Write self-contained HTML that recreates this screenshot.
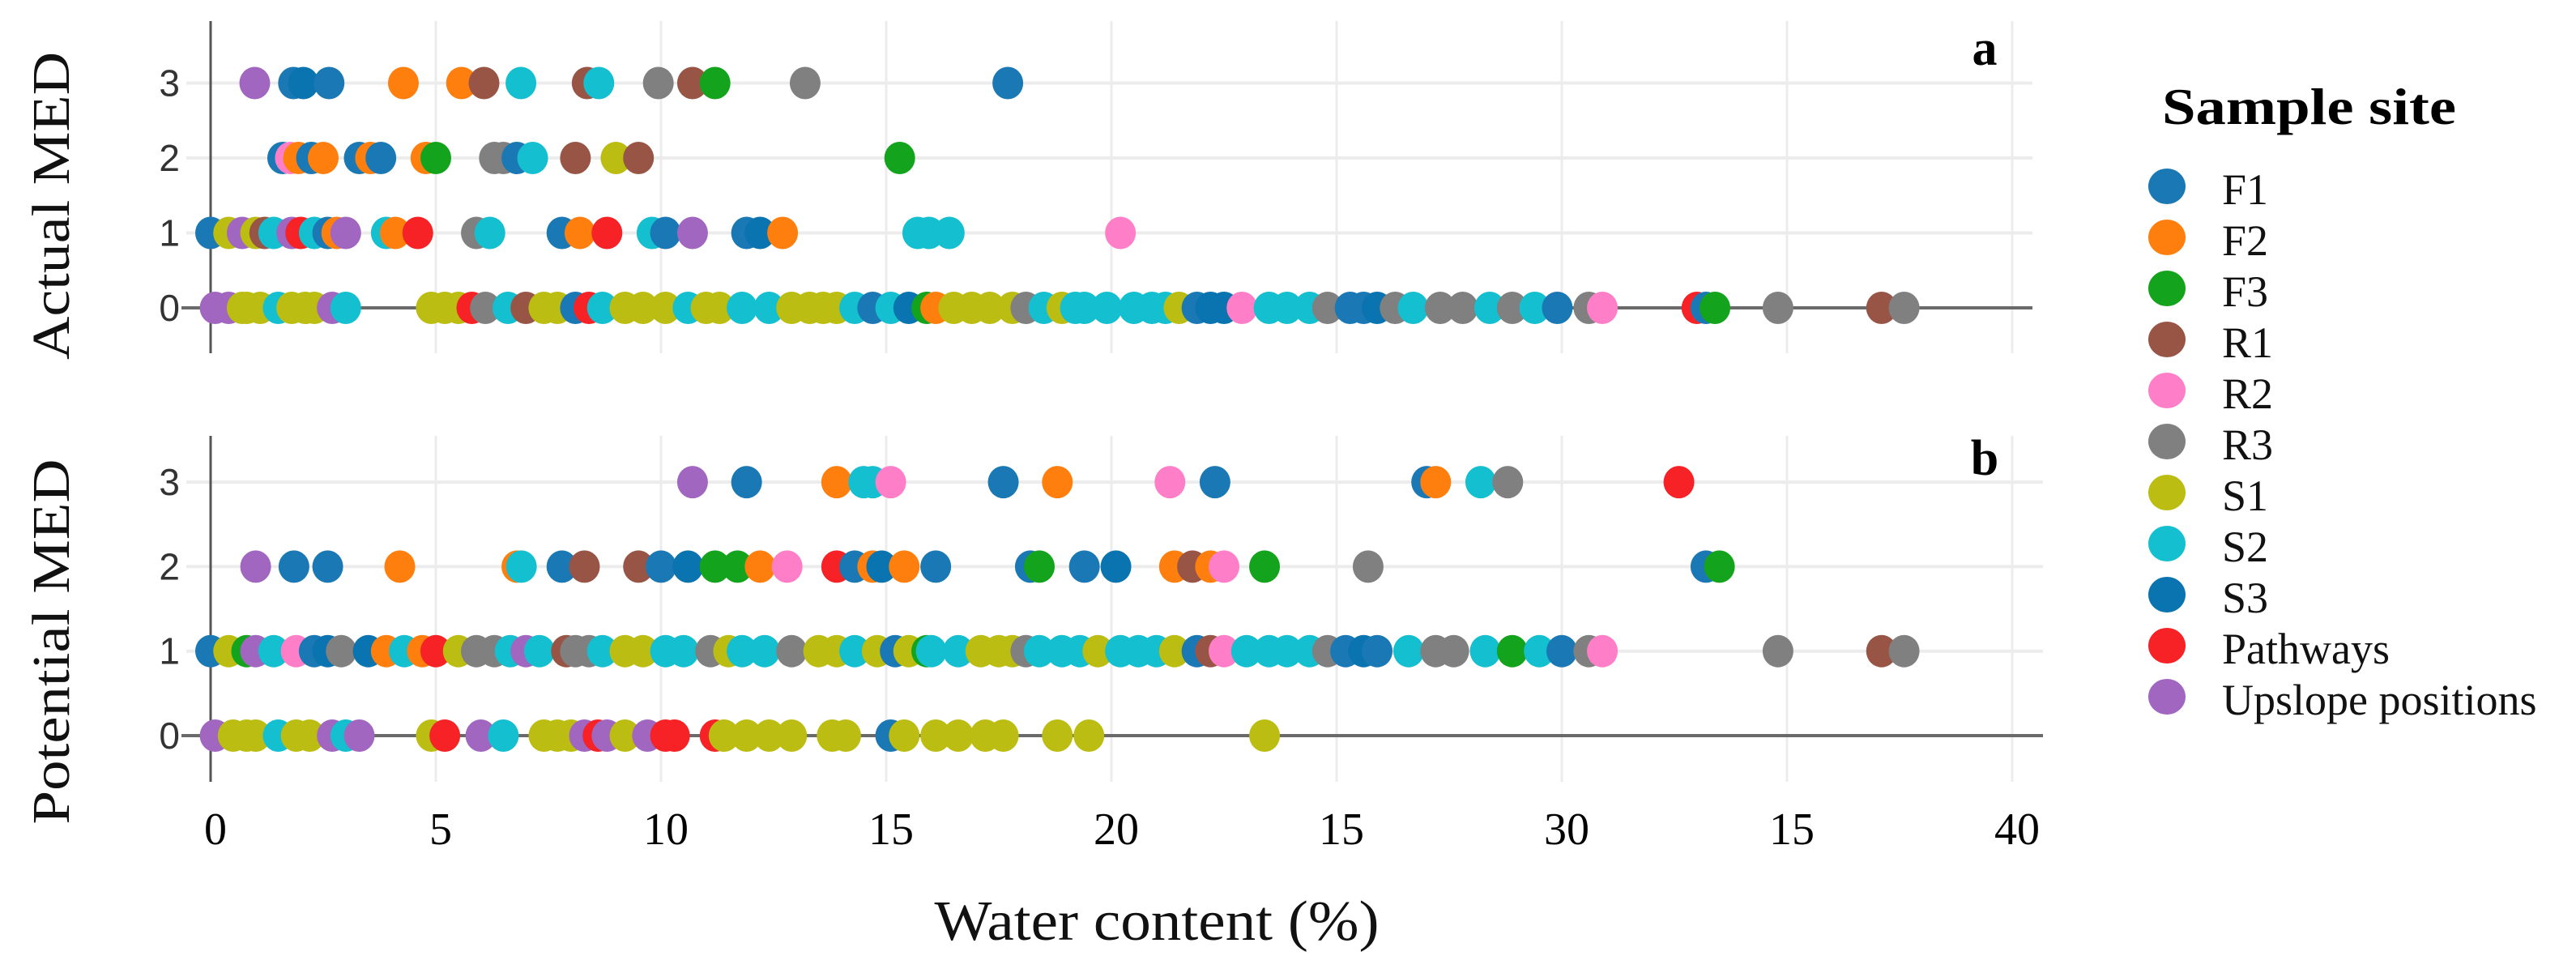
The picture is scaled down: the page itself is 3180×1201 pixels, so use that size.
<!DOCTYPE html>
<html><head><meta charset="utf-8"><style>
html,body{margin:0;padding:0;background:#fff;}
svg{display:block;}
</style></head><body>
<svg id="chart" width="3180" height="1201" viewBox="0 0 3180 1201" xmlns="http://www.w3.org/2000/svg">
<g id="grid"></g><g id="axes"></g><g id="marks"></g><g id="labels"></g><g id="legend"></g>
</svg>
<script>
const sites = ["F1","F2","F3","R1","R2","R3","S1","S2","S3","Pathways","Upslope positions"];
const siteColors = ["#1a78b4","#ff7f0e","#14a31c","#985546","#ff7ec8","#808080","#bcbd13","#14bfd0","#0a74b0","#f62226","#a066c0"];
const xTickValues = [0,5,10,15,20,25,30,35,40];
const xTickLabels = ["0","5","10","15","20","15","30","15","40"];
const yTickValues = [0,1,2,3];
// Panel a (Actual MED): [water content, site index]
const actual3 = [[0.98,10],[1.84,0],[2.06,8],[2.63,0],[4.28,1],[5.57,1],[6.07,3],[6.89,7],[8.36,3],[8.62,7],[9.94,5],[10.7,3],[11.2,2],[13.2,5],[17.7,0]];
const actual2 = [[1.6,0],[1.77,4],[1.95,1],[2.24,0],[2.5,1],[3.3,0],[3.55,1],[3.78,0],[4.78,1],[5.0,2],[6.3,5],[6.5,5],[6.8,0],[7.15,7],[8.1,3],[9.0,6],[9.5,3],[15.3,2]];
const actual1 = [[0.0,0],[0.4,6],[0.7,10],[1.0,6],[1.2,3],[1.4,7],[1.8,10],[2.0,9],[2.3,7],[2.6,0],[2.8,1],[3.0,10],[3.9,7],[4.1,1],[4.6,9],[5.9,5],[6.2,7],[7.8,0],[8.2,1],[8.8,9],[9.8,7],[10.1,0],[10.7,10],[11.9,0],[12.2,8],[12.7,1],[15.7,7],[15.95,7],[16.4,7],[20.2,4]];
const actual0 = [[0.1,10],[0.4,10],[0.7,6],[0.8,6],[1.1,6],[1.5,7],[1.8,6],[2.1,6],[2.3,6],[2.7,10],[3.0,7],[4.9,6],[5.2,6],[5.5,6],[5.8,9],[6.1,5],[6.6,7],[7.0,3],[7.4,6],[7.7,6],[8.1,0],[8.4,9],[8.7,7],[9.2,6],[9.6,6],[10.1,6],[10.6,7],[11.0,6],[11.3,6],[11.8,7],[12.4,7],[12.9,6],[13.3,6],[13.6,6],[13.9,6],[14.3,7],[14.7,0],[15.1,7],[15.5,8],[15.9,2],[16.1,1],[16.5,6],[16.9,6],[17.3,6],[17.8,6],[18.1,5],[18.5,7],[18.9,6],[19.2,7],[19.4,7],[19.9,7],[20.5,7],[20.9,7],[21.2,7],[21.5,6],[21.9,0],[22.2,8],[22.5,8],[22.9,4],[23.5,7],[23.9,7],[24.4,7],[24.8,5],[25.3,0],[25.6,0],[25.9,8],[26.3,5],[26.7,7],[27.3,5],[27.8,5],[28.4,7],[28.9,5],[29.4,7],[29.9,0],[30.6,5],[30.9,4],[33.0,9],[33.2,0],[33.4,2],[34.8,5],[37.1,3],[37.6,5]];
// Panel b (Potential MED)
const potential3 = [[10.7,10],[11.9,0],[13.9,1],[14.7,7],[14.5,7],[15.1,4],[17.6,0],[18.8,1],[21.3,4],[22.3,0],[27.0,0],[27.2,1],[28.2,7],[28.8,5],[32.6,9]];
const potential2 = [[1.0,10],[1.85,0],[2.6,0],[4.2,1],[6.8,1],[6.9,7],[7.8,0],[8.3,3],[9.5,3],[10.0,0],[10.6,8],[11.2,2],[11.7,2],[12.2,1],[12.8,4],[13.9,9],[14.3,0],[14.7,1],[14.9,8],[15.4,1],[16.1,0],[18.2,0],[18.4,2],[19.4,0],[20.1,8],[21.4,1],[21.8,3],[22.2,1],[22.5,4],[23.4,2],[25.7,5],[33.2,0],[33.5,2]];
const potential1 = [[0.0,0],[0.4,6],[0.8,2],[1.0,10],[1.4,7],[1.9,4],[2.3,0],[2.6,8],[2.9,5],[3.5,8],[3.9,1],[4.3,7],[4.7,1],[5.0,9],[5.5,6],[5.9,5],[6.3,5],[6.65,7],[7.0,10],[7.3,7],[7.9,3],[8.1,5],[8.4,5],[8.7,7],[9.2,6],[9.6,6],[10.1,7],[10.5,7],[11.1,5],[11.5,6],[11.8,7],[12.3,7],[12.9,5],[13.5,6],[13.9,6],[14.3,7],[14.8,6],[15.2,0],[15.5,6],[15.9,2],[16.0,7],[16.6,7],[17.1,6],[17.5,6],[17.8,6],[18.1,5],[18.4,7],[18.9,7],[19.3,7],[19.7,6],[20.2,7],[20.6,7],[21.0,7],[21.4,6],[21.9,0],[22.2,3],[22.5,4],[23.0,7],[23.5,7],[23.9,7],[24.4,7],[24.8,5],[25.2,0],[25.6,8],[25.9,0],[26.6,7],[27.2,5],[27.6,5],[28.3,7],[28.9,2],[29.5,7],[30.0,0],[30.6,5],[30.9,4],[34.8,5],[37.1,3],[37.6,5]];
const potential0 = [[0.1,10],[0.5,6],[0.8,6],[1.0,6],[1.5,7],[1.9,6],[2.2,6],[2.7,10],[3.0,7],[3.3,10],[4.9,6],[5.2,9],[6.0,10],[6.5,7],[7.4,6],[7.7,6],[8.0,6],[8.3,10],[8.6,9],[8.8,10],[9.2,6],[9.7,10],[10.1,9],[10.3,9],[11.2,9],[11.4,6],[11.9,6],[12.4,6],[12.9,6],[13.8,6],[14.1,6],[15.1,0],[15.4,6],[16.1,6],[16.6,6],[17.2,6],[17.6,6],[18.8,6],[19.5,6],[23.4,6]];

const svg = document.getElementById('chart');
const NS = 'http://www.w3.org/2000/svg';
function mk(tag, attrs, parent){const e=document.createElementNS(NS,tag);for(const k in attrs)e.setAttribute(k,attrs[k]);parent.appendChild(e);return e;}
const xScale = v => 260 + v*55.6;
const panels = [
  {id:'a', title:'Actual MED', y0:380, unit:92.5, top:26, bottom:436, lineEnd:2509, rows:[actual0,actual1,actual2,actual3], labelY:80, titleLen:380, titleCy:254},
  {id:'b', title:'Potential MED', y0:908, unit:104.3, top:538, bottom:965, lineEnd:2522, rows:[potential0,potential1,potential2,potential3], labelY:586, titleLen:451, titleCy:792}
];
const gGrid=document.getElementById('grid'), gAxes=document.getElementById('axes'), gMarks=document.getElementById('marks'), gLab=document.getElementById('labels'), gLeg=document.getElementById('legend');
panels.forEach(p=>{
  const yScale = v => p.y0 - v*p.unit;
  xTickValues.forEach(t=>{ if(t===0) return;
    const l=mk('line',{x1:xScale(t),x2:xScale(t),y1:p.top,y2:p.bottom,stroke:'#ececec','stroke-width':3},gGrid);
    
    
  });
  yTickValues.forEach(t=>{ if(t===0) return;
    const l=mk('line',{x1:230,x2:p.lineEnd,y1:yScale(t),y2:yScale(t),stroke:'#ececec','stroke-width':4},gGrid);
    
    
  });
  const ax=mk('line',{x1:260,x2:260,y1:p.top,y2:p.bottom,stroke:'#555','stroke-width':3},gAxes);
  
  
  const zl=mk('line',{x1:224,x2:p.lineEnd,y1:yScale(0),y2:yScale(0),stroke:'#6a6a6a','stroke-width':4},gAxes);
  
  
  yTickValues.forEach(t=>{
    const tx=mk('text',{x:222,y:yScale(t)+16,'text-anchor':'end','font-family':'Liberation Sans, sans-serif','font-size':46,fill:'#333'},gLab);
    tx.textContent=String(t);
    
    
  });
  p.rows.forEach((row,lvl)=>{
    row.forEach(pt=>{
      const c=mk('ellipse',{cx:xScale(pt[0]),cy:yScale(lvl),rx:19,ry:20,fill:siteColors[pt[1]]},gMarks);
      
      
    });
  });
  const pl=mk('text',{x:2450,y:p.labelY,'text-anchor':'middle','font-family':'Liberation Serif, serif','font-weight':'bold','font-size':62,fill:'#000'},gLab);
  pl.textContent=p.id;
  
  
  const yt=mk('text',{x:0,y:0,'text-anchor':'middle','font-family':'Liberation Serif, serif','font-size':66,fill:'#111',textLength:p.titleLen,lengthAdjust:'spacingAndGlyphs',transform:`translate(85,${p.titleCy}) rotate(-90)`},gLab);
  yt.textContent=p.title;
  
  
});
xTickValues.forEach((t,i)=>{
  const tx=mk('text',{x:xScale(t)+6,y:1042,'text-anchor':'middle','font-family':'Liberation Serif, serif','font-size':56,fill:'#000'},gLab);
  tx.textContent=xTickLabels[i];
  
  
});
const xt=mk('text',{x:1428,y:1160,'text-anchor':'middle','font-family':'Liberation Serif, serif','font-size':70,fill:'#111',textLength:549,lengthAdjust:'spacingAndGlyphs'},gLab);
xt.textContent='Water content (%)';


const lt=mk('text',{x:2669,y:153,'font-family':'Liberation Serif, serif','font-weight':'bold','font-size':64,fill:'#000',textLength:363,lengthAdjust:'spacingAndGlyphs'},gLeg);
lt.textContent='Sample site';


sites.forEach((s,i)=>{
  const cy=230+i*63;
  const c=mk('ellipse',{cx:2675,cy:cy,rx:23,ry:22,fill:siteColors[i]},gLeg);
  
  
  const t=mk('text',{x:2743,y:cy+22,'font-family':'Liberation Serif, serif','font-size':54,fill:'#111'},gLeg);
  t.textContent=s;
  
  
});
</script>
</body></html>
